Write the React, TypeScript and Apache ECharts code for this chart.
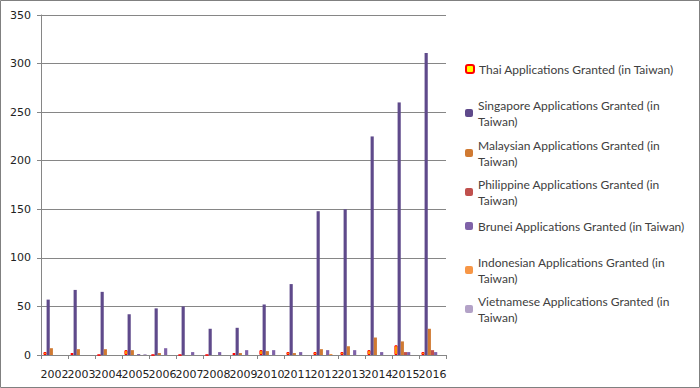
import React, { useEffect, useRef } from "react";
import * as echarts from "echarts";

const years = ["2002","2003","2004","2005","2006","2007","2008","2009","2010","2011","2012","2013","2014","2015","2016"];
const seriesNames = [
  "Thai Applications Granted (in Taiwan)",
  "Singapore Applications Granted (in Taiwan)",
  "Malaysian Applications Granted (in Taiwan)",
  "Philippine Applications Granted (in Taiwan)",
  "Brunei Applications Granted (in Taiwan)",
  "Indonesian Applications Granted (in Taiwan)",
  "Vietnamese Applications Granted (in Taiwan)",
];
const thai = [3, 2, 0, 5, 0, 0, 0, 2, 5, 3, 3, 3, 5, 10, 3];
const singapore = [57, 67, 65, 42, 48, 50, 27, 28, 52, 73, 148, 150, 225, 260, 311];
const malaysian = [7, 6, 6, 5, 2, 0, 0, 2, 4, 2, 6, 9, 18, 14, 27];
const philippine = [0, 0, 0, 0, 0, 0, 0, 0, 0, 0, 0, 0, 0, 3, 5];
const brunei = [0, 0, 0, 1, 7, 3, 3, 5, 5, 3, 5, 5, 3, 3, 3];
const indonesian = [0, 0, 0, 0, 0, 0, 0, 0, 0, 0, 1, 0, 0, 0, 0];
const vietnamese = [0, 0, 0, 1, 0, 0, 0, 0, 0, 0, 0, 0, 0, 0, 0];
const legendLines = [
  ["Thai Applications Granted (in Taiwan)"],
  ["Singapore Applications Granted (in", "Taiwan)"],
  ["Malaysian Applications Granted (in", "Taiwan)"],
  ["Philippine Applications Granted (in", "Taiwan)"],
  ["Brunei Applications Granted (in Taiwan)"],
  ["Indonesian Applications Granted (in", "Taiwan)"],
  ["Vietnamese Applications Granted (in", "Taiwan)"],
];
const yTicks = [0, 50, 100, 150, 200, 250, 300, 350];

const colors = ["#FFFF00", "#5F4A8B", "#D07A32", "#C0504D", "#7F62A8", "#F79646", "#B3A2C7"];

export default function App() {
  const ref = useRef<HTMLDivElement>(null);
  useEffect(() => {
    document.body.style.margin = "0";
    const chart = echarts.init(ref.current!, null, { renderer: "svg" });
    const data = [thai, singapore, malaysian, philippine, brunei, indonesian, vietnamese];
    const legendY = [69, 108, 148, 187, 226, 265, 304];
    const lh = 16;
    const legends = seriesNames.map((name, i) => {
      const lines = legendLines[i];
      const two = lines.length > 1;
      const boxH = two ? lh * 2 + lh : lh;
      return {
        show: true,
        orient: "vertical",
        left: 465,
        top: legendY[i] - boxH / 2 + (two ? 5 : 0),
        padding: 0,
        itemWidth: 8,
        itemHeight: 8,
        itemGap: 0,
        selectedMode: false,
        data: [name],
        formatter: () => lines.join("\n"),
        textStyle: {
          fontFamily: "Lato",
          fontSize: 12,
          color: "#404040",
          lineHeight: lh,
          padding: two ? [lh, 0, 0, 0] : 0,
        },
      };
    });
    chart.setOption({
      animation: false,
      grid: { left: 41, right: 254, top: 15, bottom: 33 },
      legend: legends,
      xAxis: {
        type: "category",
        data: years,
        axisLine: { lineStyle: { color: "#868686" } },
        axisTick: { show: true, length: 4, lineStyle: { color: "#868686" } },
        axisLabel: { interval: 0, color: "#222", fontFamily: "DejaVu Sans", fontSize: 11, margin: 14 },
      },
      yAxis: {
        type: "value",
        min: yTicks[0],
        max: yTicks[yTicks.length - 1],
        interval: 50,
        axisLine: { show: true, lineStyle: { color: "#868686" } },
        axisTick: { show: true, length: 4, lineStyle: { color: "#868686" } },
        splitLine: { lineStyle: { color: "#868686" } },
        axisLabel: { color: "#222", fontFamily: "DejaVu Sans", fontSize: 11, margin: 10 },
      },
      series: seriesNames.map((name, i) => ({
        type: "bar",
        name,
        data: data[i],
        barGap: "0%",
        barCategoryGap: "18%",
        itemStyle: i === 0
          ? { color: colors[i], borderColor: "#FF0000", borderWidth: 1 }
          : { color: colors[i] },
      })),
      graphic: [
        {
          type: "rect",
          shape: { x: 0.5, y: 0.5, width: 699, height: 387 },
          style: { fill: "none", stroke: "#808080", lineWidth: 1 },
          silent: true,
        },
      ],
    });
    return () => chart.dispose();
  }, []);
  return <div ref={ref} style={{ width: 700, height: 388 }} />;
}
